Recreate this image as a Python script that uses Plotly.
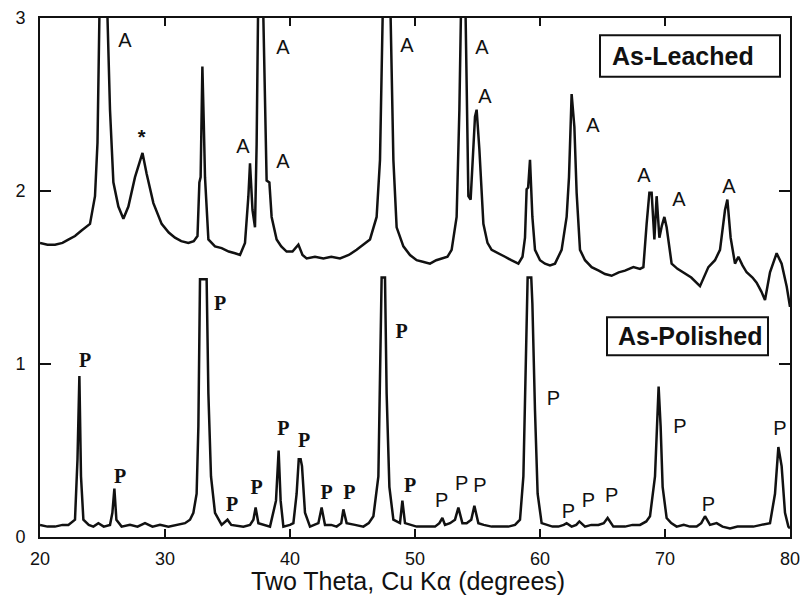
import plotly.graph_objects as go

# ---------------- data ----------------
two_theta_leached = [20.0, 20.6, 21.2, 21.8, 22.3, 22.8, 23.3, 23.7, 24.0, 24.4, 24.6, 24.75, 25.1, 25.4,
    25.6, 25.87, 26.27, 26.67, 27.07, 27.6, 28.08, 28.2, 28.53, 29.07, 29.73, 30.3, 30.8, 31.3,
    31.87, 32.3, 32.6, 32.75, 32.85, 32.99, 33.1, 33.2, 33.47, 34.0, 34.53, 35.1, 35.6, 36.0,
    36.4, 36.67, 36.8, 37.0, 37.2, 37.33, 37.44, 37.65, 37.87, 38.0, 38.13, 38.35, 38.53, 38.93,
    39.3, 39.73, 40.2, 40.67, 41.0, 41.33, 42.0, 42.67, 43.3, 44.0, 44.7, 45.33, 45.9, 46.4,
    46.93, 47.2, 47.41, 47.7, 48.05, 48.27, 48.53, 49.07, 49.6, 50.13, 50.7, 51.2, 51.7, 52.13,
    52.6, 52.93, 53.33, 53.55, 53.68, 53.85, 54.05, 54.15, 54.27, 54.45, 54.65, 54.8, 54.93,
    55.15, 55.47, 55.8, 56.13, 56.7, 57.2, 57.7, 58.27, 58.6, 58.8, 58.93, 59.05, 59.2, 59.39,
    59.6, 60.0, 60.4, 60.8, 61.2, 61.73, 62.13, 62.32, 62.53, 62.75, 62.93, 63.2, 63.6, 64.13,
    64.7, 65.2, 65.73, 66.3, 66.8, 67.47, 68.0, 68.27, 68.53, 68.75, 68.93, 69.15, 69.33, 69.55,
    69.75, 69.95, 70.13, 70.53, 71.0, 71.47, 72.1, 72.8, 73.47, 74.0, 74.4, 74.8, 74.99, 75.25,
    75.6, 75.87, 76.2, 76.53, 77.0, 77.33, 77.7, 78.0, 78.4, 78.93, 79.33, 79.73, 80.0]
intensity_leached = [1.70, 1.69, 1.69, 1.70, 1.72, 1.74, 1.77, 1.79, 1.81, 1.97, 2.28, 3.0, 3.8, 3.0,
    2.47, 2.05, 1.91, 1.84, 1.91, 2.08, 2.20, 2.22, 2.10, 1.93, 1.81, 1.76, 1.73, 1.71,
    1.70, 1.71, 1.74, 2.05, 2.08, 2.72, 2.40, 2.08, 1.72, 1.68, 1.67, 1.65, 1.64, 1.63,
    1.70, 1.97, 2.16, 1.89, 1.79, 2.27, 3.0, 3.8, 3.0, 2.47, 2.06, 2.05, 1.85, 1.72,
    1.68, 1.65, 1.65, 1.69, 1.63, 1.61, 1.62, 1.61, 1.62, 1.61, 1.63, 1.66, 1.69, 1.72,
    1.85, 2.18, 3.0, 3.8, 3.0, 2.18, 1.79, 1.68, 1.63, 1.60, 1.59, 1.58, 1.60, 1.61,
    1.62, 1.66, 1.85, 2.47, 3.0, 3.8, 3.0, 2.50, 1.97, 1.95, 2.20, 2.43, 2.47,
    2.24, 1.81, 1.70, 1.66, 1.64, 1.62, 1.60, 1.58, 1.62, 1.73, 2.01, 2.02, 2.18, 1.85,
    1.66, 1.60, 1.58, 1.57, 1.58, 1.66, 1.85, 2.08, 2.56, 2.37, 1.99, 1.66, 1.60, 1.56,
    1.54, 1.52, 1.51, 1.53, 1.54, 1.56, 1.55, 1.56, 1.81, 1.99, 1.99, 1.72, 1.97, 1.73,
    1.80, 1.85, 1.79, 1.58, 1.55, 1.53, 1.50, 1.45, 1.56, 1.60, 1.66, 1.89, 1.95, 1.73,
    1.58, 1.62, 1.57, 1.53, 1.50, 1.47, 1.42, 1.37, 1.53, 1.64, 1.58, 1.45, 1.33]

two_theta_polished = [20.0, 20.6, 21.2, 21.8, 22.27, 22.8, 23.0, 23.15, 23.28, 23.47, 23.9, 24.27, 24.67,
    25.1, 25.6, 25.79, 25.95, 26.11, 26.53, 27.2, 27.8, 28.4, 29.0, 29.6, 30.27, 31.0, 31.6,
    32.0, 32.27, 32.53, 32.67, 32.8, 33.33, 33.47, 33.68, 34.0, 34.53, 35.0, 35.3, 36.27, 36.8,
    37.07, 37.25, 37.47, 38.0, 38.4, 38.88, 39.09, 39.25, 39.47, 40.0, 40.27, 40.53, 40.7,
    40.85, 40.96, 41.2, 41.6, 42.27, 42.53, 42.8, 43.3, 43.73, 44.1, 44.27, 44.53, 45.2,
    45.87, 46.3, 46.67, 47.07, 47.25, 47.33, 47.6, 47.73, 47.95, 48.27, 48.8, 48.99, 49.2,
    49.7, 50.13, 50.7, 51.2, 51.6, 51.95, 52.19, 52.4, 52.8, 53.2, 53.47, 53.79, 54.13, 54.5,
    54.75, 55.07, 55.5, 56.13, 56.8, 57.47, 58.0, 58.4, 58.67, 58.85, 59.01, 59.3, 59.39,
    59.6, 59.81, 60.13, 60.6, 61.0, 61.47, 61.9, 62.13, 62.53, 62.9, 63.15, 63.6, 64.1,
    64.67, 65.1, 65.41, 65.87, 66.4, 66.8, 67.4, 68.0, 68.5, 68.8, 69.2, 69.39, 69.49, 69.65,
    69.81, 70.13, 70.5, 70.93, 71.5, 72.0, 72.53, 72.9, 73.2, 73.6, 74.13, 74.6, 75.2, 75.8,
    76.4, 77.07, 77.7, 78.4, 78.8, 79.07, 79.33, 79.6, 79.87, 80.0]
intensity_polished = [0.07, 0.06, 0.06, 0.07, 0.07, 0.10, 0.45, 0.93, 0.35, 0.10, 0.07, 0.06, 0.08,
    0.06, 0.07, 0.14, 0.28, 0.10, 0.06, 0.07, 0.06, 0.08, 0.06, 0.07, 0.06, 0.07, 0.08,
    0.10, 0.14, 0.25, 0.64, 1.49, 1.49, 0.83, 0.35, 0.14, 0.07, 0.10, 0.07, 0.06, 0.07,
    0.10, 0.17, 0.08, 0.07, 0.06, 0.21, 0.50, 0.21, 0.06, 0.07, 0.08, 0.25, 0.45,
    0.45, 0.41, 0.14, 0.06, 0.08, 0.17, 0.07, 0.07, 0.06, 0.08, 0.16, 0.08, 0.07,
    0.06, 0.08, 0.12, 0.35, 1.02, 1.50, 1.50, 0.83, 0.29, 0.10, 0.08, 0.21, 0.08,
    0.07, 0.06, 0.06, 0.06, 0.06, 0.08, 0.11, 0.07, 0.08, 0.10, 0.17, 0.08, 0.08, 0.10,
    0.18, 0.08, 0.07, 0.06, 0.06, 0.06, 0.07, 0.10, 0.35, 1.02, 1.50, 1.50, 1.35,
    0.73, 0.25, 0.08, 0.07, 0.06, 0.06, 0.07, 0.08, 0.06, 0.07, 0.09, 0.06, 0.07,
    0.07, 0.08, 0.11, 0.06, 0.06, 0.06, 0.07, 0.07, 0.09, 0.12, 0.35, 0.73, 0.87, 0.64,
    0.29, 0.11, 0.08, 0.06, 0.07, 0.06, 0.06, 0.08, 0.12, 0.07, 0.08, 0.06, 0.05, 0.06,
    0.06, 0.06, 0.07, 0.08, 0.25, 0.52, 0.41, 0.14, 0.06, 0.05]

# peak labels: A = anatase (leached), P = perovskite (polished)
a_label_x = [26.8, 36.24, 39.44, 39.44, 49.36, 55.36, 55.6, 64.24, 68.32, 71.12, 75.12]
a_label_y = [2.86, 2.25, 2.82, 2.16, 2.83, 2.82, 2.54, 2.37, 2.08, 1.94, 2.02]
star_x = [28.13]
star_y = [2.30]
p_serif_x = [23.6, 26.4, 34.4, 35.36, 37.33, 39.47, 41.12, 42.93, 44.75, 48.93, 49.6]
p_serif_y = [1.01, 0.34, 1.34, 0.18, 0.28, 0.62, 0.55, 0.25, 0.25, 1.18, 0.29]
p_sans_x = [52.13, 53.73, 55.2, 61.07, 62.27, 63.87, 65.73, 71.2, 73.47, 79.2]
p_sans_y = [0.20, 0.30, 0.29, 0.79, 0.14, 0.20, 0.23, 0.63, 0.18, 0.62]

x_ticks = [20, 30, 40, 50, 60, 70, 80]
y_ticks = [0, 1, 2, 3]
sample_names = ["As-Leached", "As-Polished"]
x_title = "Two Theta, Cu Kα (degrees)"

INK = "#111111"
SANS = "Liberation Sans, Arial, sans-serif"
SERIF = "Liberation Serif, Times New Roman, serif"

fig = go.Figure()
fig.add_trace(go.Scatter(x=two_theta_leached, y=intensity_leached, mode="lines",
                         line=dict(color=INK, width=2.5), showlegend=False, hoverinfo="skip"))
fig.add_trace(go.Scatter(x=two_theta_polished, y=intensity_polished, mode="lines",
                         line=dict(color=INK, width=2.5), showlegend=False, hoverinfo="skip"))
fig.add_trace(go.Scatter(x=a_label_x, y=a_label_y, mode="text", text=["A"] * len(a_label_x),
                         textfont=dict(family=SANS, size=20, color=INK), showlegend=False,
                         hoverinfo="skip"))
fig.add_trace(go.Scatter(x=star_x, y=star_y, mode="text", text=["<b>*</b>"],
                         textfont=dict(family=SANS, size=20, color=INK), showlegend=False,
                         hoverinfo="skip"))
fig.add_trace(go.Scatter(x=p_serif_x, y=p_serif_y, mode="text", text=["<b>P</b>"] * len(p_serif_x),
                         textfont=dict(family=SERIF, size=20, color=INK), showlegend=False,
                         hoverinfo="skip"))
fig.add_trace(go.Scatter(x=p_sans_x, y=p_sans_y, mode="text", text=["P"] * len(p_sans_x),
                         textfont=dict(family=SANS, size=20, color=INK), showlegend=False,
                         hoverinfo="skip"))

# sample name boxes
fig.add_shape(type="rect", x0=64.8, x1=79.2, y0=2.66, y1=2.90, xref="x", yref="y",
              line=dict(color=INK, width=2), fillcolor="white", layer="above")
fig.add_shape(type="rect", x0=65.36, x1=78.24, y0=1.05, y1=1.27, xref="x", yref="y",
              line=dict(color=INK, width=2), fillcolor="white", layer="above")
fig.add_annotation(x=71.44, y=2.78, text="<b>" + sample_names[0] + "</b>", showarrow=False,
                   font=dict(family=SANS, size=25, color=INK))
fig.add_annotation(x=71.96, y=1.16, text="<b>" + sample_names[1] + "</b>", showarrow=False,
                   font=dict(family=SANS, size=25, color=INK))
# x-axis title
fig.add_annotation(x=0.4907, y=-0.0848, xref="paper", yref="paper", text=x_title,
                   showarrow=False, xanchor="center", yanchor="middle",
                   font=dict(family=SANS, size=25, color=INK))

fig.update_xaxes(range=[20, 80], tickvals=x_ticks, ticks="inside", ticklen=8, tickwidth=2,
                 tickcolor=INK, showline=True, linecolor=INK, linewidth=2, mirror="ticks",
                 showgrid=False, zeroline=False, ticklabelstandoff=4, automargin=False,
                 tickfont=dict(family=SANS, size=18, color=INK))
fig.update_yaxes(range=[0, 3], tickvals=y_ticks, ticks="inside", ticklen=11, tickwidth=2,
                 tickcolor=INK, showline=True, linecolor=INK, linewidth=2, mirror="ticks",
                 showgrid=False, zeroline=False, ticklabelstandoff=9, automargin=False,
                 tickfont=dict(family=SANS, size=18, color=INK))
fig.update_layout(width=803, height=601, margin=dict(l=40, r=13, t=18, b=64),
                  plot_bgcolor="white", paper_bgcolor="white", showlegend=False)

fig.write_html("out.html", config={"displayModeBar": False},
               post_script="document.body.style.margin='0';document.body.style.overflow='hidden';")
